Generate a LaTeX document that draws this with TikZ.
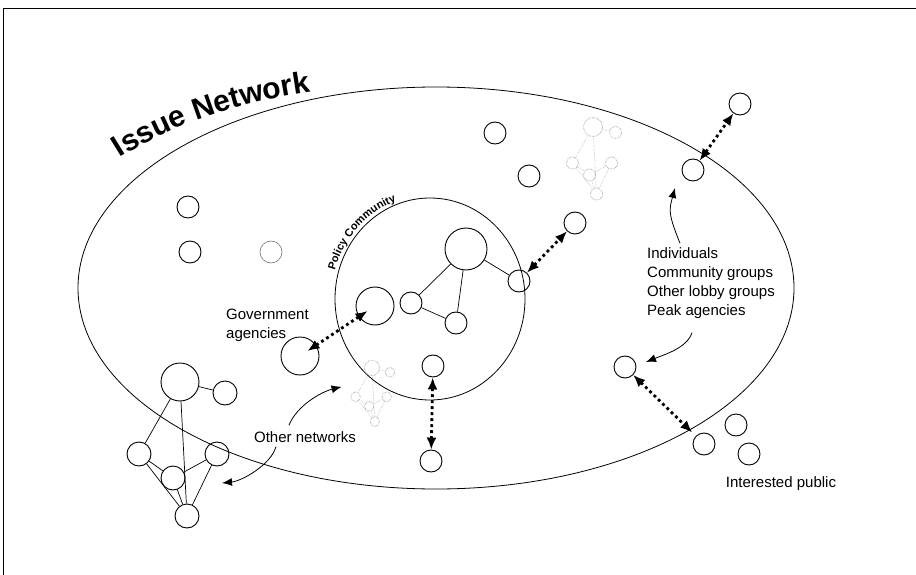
\documentclass[tikz,border=0pt]{standalone}
\usepackage{fontspec}
\setmainfont{Liberation Sans}
\usetikzlibrary{arrows.meta,calc,decorations.text}

\tikzset{
  actor/.style={circle, draw, line width=0.9pt, minimum size=22pt, inner sep=0pt},
  bigactor/.style={actor, minimum size=38pt},
  link/.style={line width=0.7pt},
  dotlink/.style={{Latex[length=12pt,width=10pt]}-{Latex[length=12pt,width=10pt]},
    line width=2.8pt, dash pattern=on 2.8pt off 3.2pt},
  callout/.style={-{Latex[length=10pt,width=8pt]}, line width=0.8pt},
  lbl/.style={font=\fontsize{15}{19}\selectfont, align=left, inner sep=0pt},
  faintnet/.style={transform shape, black!40, densely dotted,
    every node/.append style={line width=0.5pt}, link/.append style={line width=0.5pt}},
  % small network of actors, reused for the other networks
  pics/subnet/.style={code={
    \node[bigactor] (-hub) at (0,0) {};
    \node[actor, minimum size=24pt] (-side) at (45,11) {};
    \node[actor, minimum size=24pt] (-left) at (-41,72) {};
    \node[actor, minimum size=24pt] (-right) at (37,72) {};
    \node[actor, minimum size=24pt] (-mid) at (-7,96) {};
    \node[actor, minimum size=24pt] (-bottom) at (7,134) {};
    \draw[link] (-hub) -- (-side) (-hub) -- (-left) (-hub) -- (-bottom)
      (-left) -- (-mid) (-left) -- (-bottom) (-right) -- (-mid)
      (-right) -- (-bottom) (-mid) -- (-bottom);
  }}
}

\begin{document}
\begin{tikzpicture}[x=1pt, y=-1pt]
\useasboundingbox (0,0) rectangle (916,575);

% frame
\draw[line width=0.8pt] (3,575) -- (3,8) -- (916,8);

% issue network and policy community
\draw[line width=0.8pt] (436,288) ellipse [x radius=358, y radius=201];
\draw[line width=0.8pt] (430,299) ellipse [x radius=95, y radius=101];
\path[decorate, decoration={text along path,
    text={|\fontsize{30}{30}\selectfont\bfseries|Issue Network}}]
  (120,158) .. controls (180,120) and (255,96) .. (345,88);
\path[decorate, decoration={text along path,
    text={|\fontsize{11}{11}\selectfont\bfseries|Policy Community}}]
  (430,299) ++(196:99 and 104) arc[start angle=196, end angle=268, x radius=99, y radius=104];

% actors in the issue network
\node[actor] (iss1) at (188,207) {};
\node[actor] (iss2) at (190,252) {};
\node[actor, draw=black!55, line width=0.6pt] (iss3) at (271,252) {};
\node[actor] (iss4) at (495,133) {};
\node[actor] (iss5) at (529,176) {};
\node[actor] (iss6) at (575,223) {};
\node[actor] (iss7) at (433,366) {};
\node[actor] (bnd1) at (693,170) {};
\node[actor] (out1) at (740,104) {};
\node[actor] (out2) at (431,461) {};
\node[actor] (lob) at (625,367) {};
\node[actor] (pub1) at (704,444) {};
\node[actor] (pub2) at (736,425) {};
\node[actor] (pub3) at (749,454) {};

% policy community
\node[bigactor] (govin) at (375,306) {};
\node[bigactor] (govout) at (300,356) {};
\node[actor, minimum size=42pt] (pcA) at (466,249) {};
\node[actor] (pcB) at (519,281) {};
\node[actor] (pcC) at (411,303) {};
\node[actor] (pcD) at (456,323) {};
\draw[link] (pcA) -- (pcB) (pcA) -- (pcC) (pcA) -- (pcD) (pcC) -- (pcD);

% other networks
\pic (ln) at (180,382) {subnet};
\pic[faintnet, scale=0.5] (tn) at (593,127) {subnet};
\pic[faintnet, scale=0.4] (bn) at (372,368) {subnet};

% exchanges
\draw[dotlink, shorten <=9pt, shorten >=9pt] (govin.center) -- (govout.center);
\draw[dotlink] (pcB) -- (iss6);
\draw[dotlink] (iss7) -- (out2);
\draw[dotlink] (bnd1) -- (out1);
\draw[dotlink, shorten >=5pt] (lob) -- (pub1);

% labels
\node[lbl, anchor=west] (govlbl) at (226,325) {Government\\agencies};
\node[lbl] (netlbl) at (305,437) {Other networks};
\node[lbl, anchor=west] (actors) at (647,283)
  {Individuals\\Community groups\\Other lobby groups\\Peak agencies};
\node[lbl] (publbl) at (781,484) {Interested public};

% callouts
\draw[callout] ($(actors.north west)+(33,-4)$) .. controls +(-12,-30) and +(-6,22) .. ($(bnd1)+(-18,18)$);
\draw[callout] ($(actors.south west)+(45,14)$) .. controls +(-5,15) and +(20,-8) .. ($(lob)+(21,-5)$);
\draw[callout] ($(netlbl.north west)+(35,-6)$) .. controls +(8,-20) and +(-20,5) .. ($(bn-left)+(-14,-10)$);
\draw[callout] ($(netlbl.south west)+(22,4)$) .. controls +(-5,18) and +(20,-2) .. ($(ln-right)+(5,29)$);
\end{tikzpicture}
\end{document}
